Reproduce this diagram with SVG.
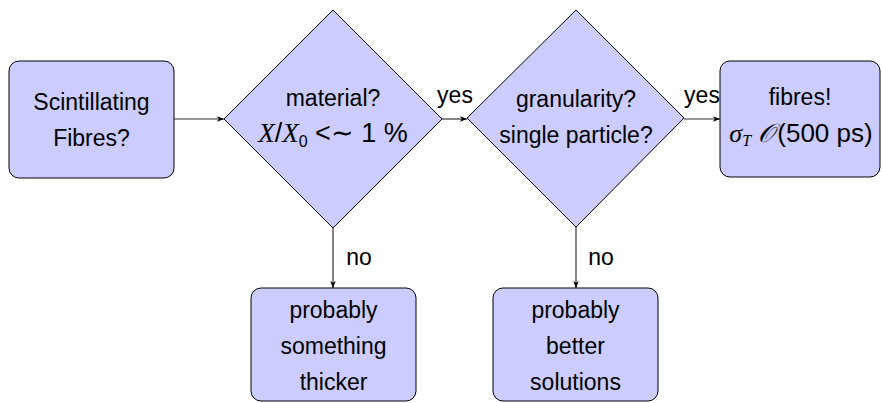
<svg xmlns="http://www.w3.org/2000/svg" width="882" height="403" viewBox="0 0 882 403">
<style>
.n{fill:#ccccff;stroke:#000;stroke-width:1}
.t{font-family:"Liberation Sans",Arial,sans-serif;font-size:23px;fill:#000;text-anchor:middle}
.m{font-family:"Liberation Serif","DejaVu Serif",serif;font-style:italic}
.c{stroke:#333;stroke-width:1.2;fill:none;marker-end:url(#a)}
</style>
<defs>
<marker id="a" viewBox="0 0 10 10" refX="10" refY="5" markerWidth="7" markerHeight="7" markerUnits="userSpaceOnUse" orient="auto">
<path d="M0,1 L10,5 L0,9 L2.5,5 Z" fill="#000"/>
</marker>
</defs>
<g id="connectors">
<line class="c" x1="174" y1="119" x2="224" y2="119"/>
<line class="c" x1="442" y1="119" x2="467" y2="119"/>
<line class="c" x1="684" y1="119" x2="720" y2="119"/>
<line class="c" x1="333" y1="228" x2="333" y2="288"/>
<line class="c" x1="576" y1="227" x2="576" y2="288"/>
<text class="t" x="455" y="103">yes</text>
<text class="t" x="702" y="103">yes</text>
<text class="t" x="359" y="265">no</text>
<text class="t" x="601" y="265">no</text>
</g>
<g id="start">
<rect class="n" x="9" y="61" width="165" height="117" rx="10"/>
<text class="t" x="91.5" y="110">Scintillating</text>
<text class="t" x="91.5" y="146">Fibres?</text>
</g>
<g id="material">
<polygon class="n" points="333,10 442,119 333,228 224,119"/>
<text class="t" x="333" y="106">material?</text>
<text class="t" x="333" y="142" style="font-size:27px"><tspan class="m">X</tspan>/<tspan class="m">X</tspan><tspan style="font-size:16px" dy="5">0</tspan><tspan dy="-5"> &lt;∼ 1 %</tspan></text>
</g>
<g id="granularity">
<polygon class="n" points="576,10 684,118 576,227 467,118"/>
<text class="t" x="576" y="107">granularity?</text>
<text class="t" x="576" y="143">single particle?</text>
</g>
<g id="fibres">
<rect class="n" x="720" y="61" width="160" height="116" rx="10"/>
<text class="t" x="800" y="105">fibres!</text>
<text class="t" x="801" y="142" style="font-size:26px"><tspan class="m">σ</tspan><tspan class="m" style="font-size:16px" dy="4">T</tspan><tspan dy="-4"> </tspan><tspan class="m">𝒪</tspan><tspan dx="3">(500 ps)</tspan></text>
</g>
<g id="thicker">
<rect class="n" x="251" y="288" width="165" height="113" rx="10"/>
<text class="t" x="333.5" y="318">probably</text>
<text class="t" x="333.5" y="354">something</text>
<text class="t" x="333.5" y="390">thicker</text>
</g>
<g id="better">
<rect class="n" x="493" y="288" width="165" height="113" rx="10"/>
<text class="t" x="575.5" y="318">probably</text>
<text class="t" x="575.5" y="354">better</text>
<text class="t" x="575.5" y="390">solutions</text>
</g>
</svg>
